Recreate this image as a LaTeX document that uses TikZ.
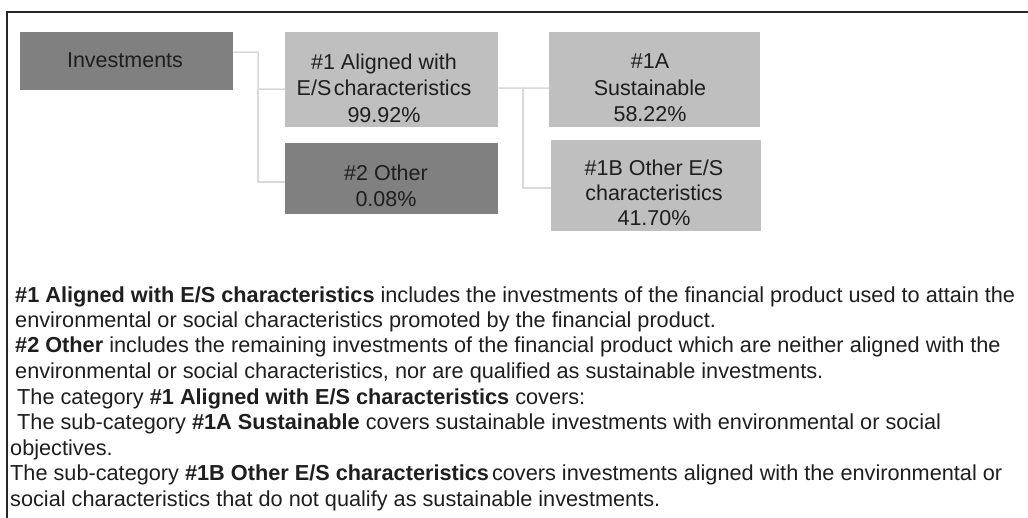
\documentclass[tikz,border=0pt]{standalone}
\usepackage{fontspec}
\setmainfont{Liberation Sans}
\definecolor{boxdark}{RGB}{128,128,128}
\definecolor{boxlight}{RGB}{191,191,192}
\definecolor{txt}{RGB}{30,30,30}
\definecolor{connc}{RGB}{217,217,217}
\definecolor{framec}{RGB}{38,38,38}
\tikzset{
  darkbox/.style={fill=boxdark, draw=none, inner sep=0pt, anchor=north west},
  lightbox/.style={fill=boxlight, draw=none, inner sep=0pt, anchor=north west},
  boxtext/.style={font=\fontsize{21.5}{26.5}\selectfont, text=txt, align=center, inner sep=0pt},
  bodyline/.style={font=\fontsize{21.7}{25.4}\selectfont, text=txt, anchor=base west, inner sep=0pt},
  conn/.style={draw=connc, line width=1.5pt},
  frameline/.style={draw=framec, line width=1.4pt}
}
\begin{document}
\begin{tikzpicture}[x=1pt,y=-1pt]
\useasboundingbox (0,0) rectangle (1028,518);
% frame
\draw[frameline] (7,518) -- (7,12) -- (1028,12);
% boxes
\node[darkbox, minimum width=213pt, minimum height=58pt] (inv) at (20,32) {};
\node[lightbox, minimum width=213pt, minimum height=95pt] (a1) at (285,32) {};
\node[darkbox, minimum width=213pt, minimum height=71pt] (o2) at (285,143) {};
\node[lightbox, minimum width=211pt, minimum height=95pt] (s1a) at (549,32) {};
\node[lightbox, minimum width=210pt, minimum height=91pt] (s1b) at (551,140) {};
% connectors
\coordinate (k1) at (258,89);
\coordinate (k2) at (523,88);
\draw[conn] ([yshift=9pt]inv.east) -| (k1) -- ([yshift=-9.5pt]a1.west);
\draw[conn] (k1) |- ([yshift=-3.5pt]o2.west);
\draw[conn] ([yshift=-8.5pt]a1.east) -- (k2) -- ([yshift=-8.5pt]s1a.west);
\draw[conn] (k2) |- ([yshift=-2.5pt]s1b.west);
% box texts
\node[boxtext, anchor=base] (invt) at (125,68) {Investments};
\node[boxtext] (a1t) at (384,88) {\#1 Aligned with\\E/S\kern2.5pt characteristics\\99.92\%};
\node[boxtext] (o2t) at (386,186) {\#2 Other\\0.08\%};
\node[boxtext] (s1at) at (650,88) {\#1A\\Sustainable\\58.22\%};
\node[boxtext, font=\fontsize{21.5}{25}\selectfont] (s1bt) at (654,193) {\#1B Other E/S\\characteristics\\41.70\%};
% body text
\node[bodyline] (l1) at (15,303) {\textbf{\#1 Aligned with E/S characteristics} includes the investments of the financial product used to attain the};
\node[bodyline] (l2) at (15,328) {environmental or social characteristics promoted by the financial product.};
\node[bodyline] (l3) at (15,353) {\textbf{\#2 Other} includes the remaining investments of the financial product which are neither aligned with the};
\node[bodyline] (l4) at (15,379) {environmental or social characteristics, nor are qualified as sustainable investments.};
\node[bodyline] (l5) at (17,404) {The category \textbf{\#1 Aligned with E/S characteristics} covers:};
\node[bodyline] (l6) at (17,429) {The sub-category \textbf{\#1A Sustainable} covers sustainable investments with environmental or social};
\node[bodyline] (l7) at (10,455) {objectives.};
\node[bodyline] (l8) at (10,480) {The sub-category \textbf{\#1B Other E/S characteristics}\kern3pt covers investments aligned with the environmental or};
\node[bodyline] (l9) at (10,506) {social characteristics that do not qualify as sustainable investments.};
\end{tikzpicture}
\end{document}
